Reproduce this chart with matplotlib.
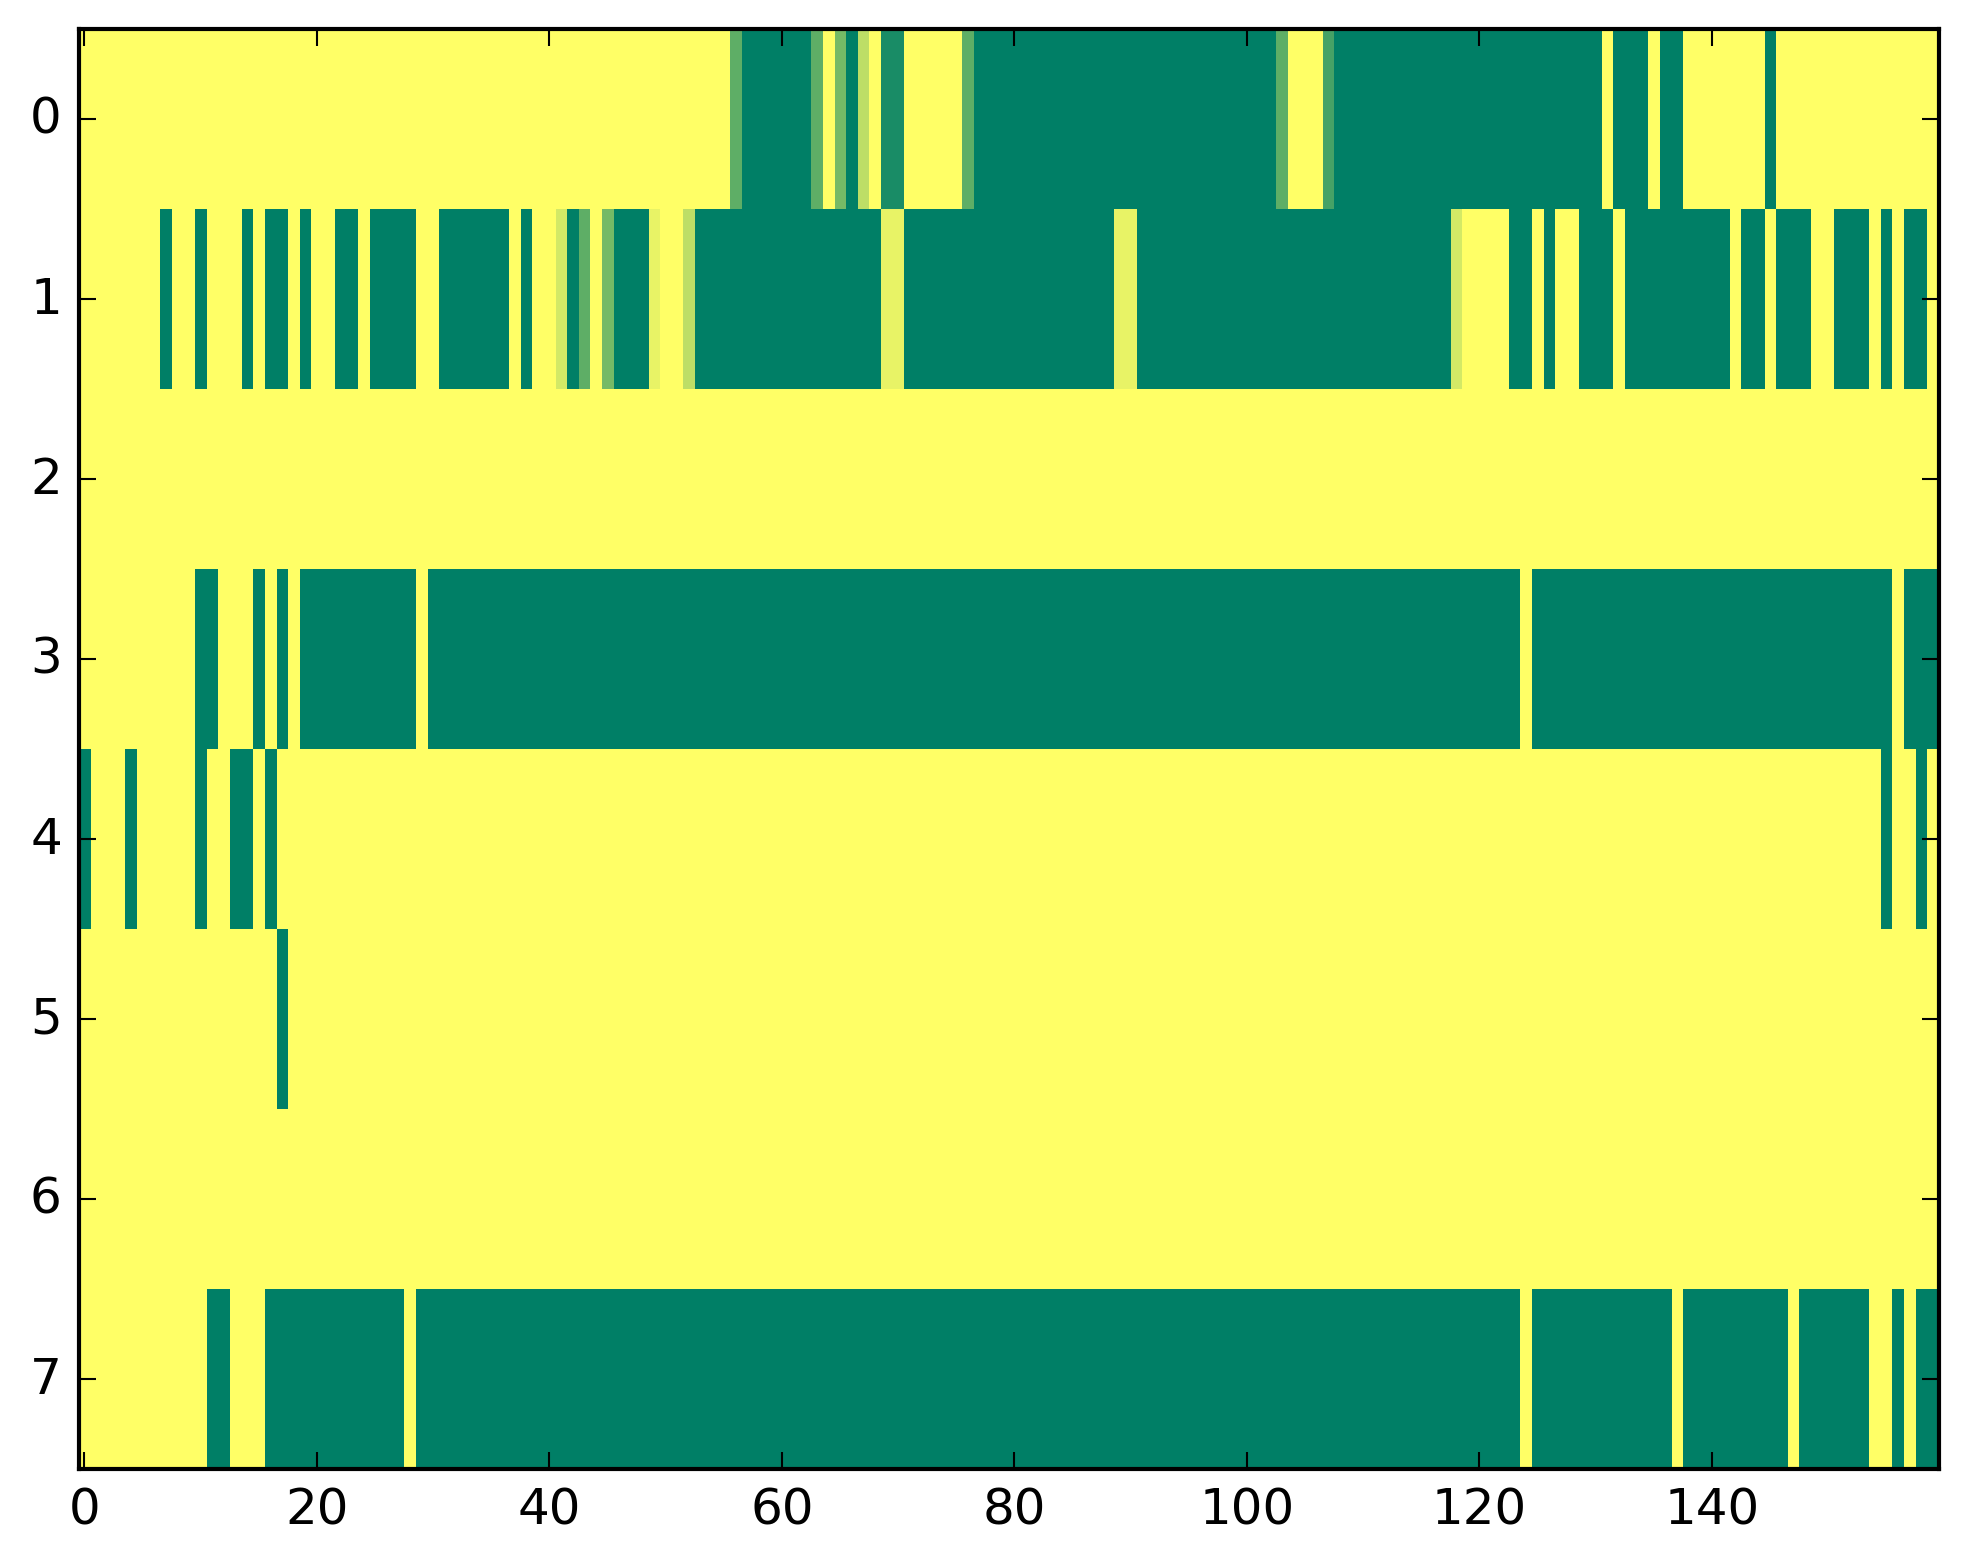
#Heat strip of 8 rows x 160 columns drawn with the summer colormap.
import numpy as np
import matplotlib
matplotlib.use('Agg')
import matplotlib.pyplot as plt

plt.style.use('classic')

#Each row written as runs of cell values (1 = yellow, 0 = dark green).
row0 = ([1]*56 + [.37] + [0]*6 + [.37] + [1] + [.46] + [0] + [.74] + [1] + [.1, .1]
        + [1]*5 + [.37] + [0]*26 + [.37] + [1]*3 + [.27] + [0]*23 + [1] + [0]*3
        + [1] + [0]*2 + [1]*7 + [0] + [1]*14)
row1 = ([1]*7 + [0] + [1]*2 + [0] + [1]*3 + [0] + [1] + [0]*2 + [1] + [0] + [1]*2
        + [0]*2 + [1] + [0]*4 + [1]*2 + [0]*6 + [1] + [0] + [1]*2 + [.83] + [0]
        + [.37] + [1] + [.46] + [0]*3 + [.91] + [1]*2 + [.74] + [0]*16 + [.91]*2
        + [0]*18 + [.91]*2 + [0]*27 + [.83] + [1]*4 + [0]*2 + [1] + [0] + [1]*2
        + [0]*3 + [1] + [0]*9 + [1] + [0]*2 + [1] + [0]*3 + [1]*2 + [0]*3 + [1]
        + [0] + [1] + [0]*2 + [1])
row2 = [1]*160
row3 = ([1]*10 + [0]*2 + [1]*3 + [0] + [1] + [0] + [1] + [0]*10 + [1] + [0]*94
        + [1] + [0]*31 + [1] + [0]*3)
row4 = ([0] + [1]*3 + [0] + [1]*5 + [0] + [1]*2 + [0]*2 + [1] + [0] + [1]*138
        + [0] + [1]*2 + [0] + [1])
row5 = [1]*17 + [0] + [1]*142
row6 = [1]*160
row7 = ([1]*11 + [0]*2 + [1]*3 + [0]*12 + [1] + [0]*95 + [1] + [0]*12 + [1]
        + [0]*9 + [1] + [0]*6 + [1]*2 + [0] + [1] + [0]*2)

rows = [row0, row1, row2, row3, row4, row5, row6, row7]
for r in rows:
    assert len(r) == 160, len(r)
data = np.array(rows, dtype=float)

fig = plt.figure(figsize=(8, 6))
ax = fig.add_subplot(111)
ax.imshow(data, cmap='summer', vmin=0, vmax=1, aspect='auto', interpolation='nearest')
ax.set_xlim(-0.5, 159.5)
ax.set_ylim(7.5, -0.5)
ax.set_xticks(np.arange(0, 160, 20))
ax.set_yticks(np.arange(0, 8))

plt.savefig('out.png', dpi=300, bbox_inches='tight', facecolor='white')
